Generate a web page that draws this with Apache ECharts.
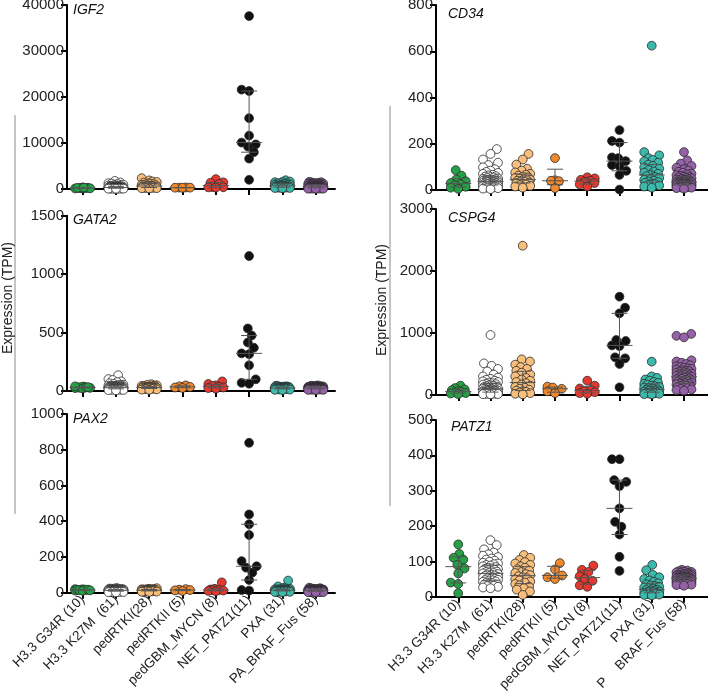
<!DOCTYPE html>
<html><head><meta charset="utf-8">
<script src="https://cdn.jsdelivr.net/npm/echarts@6/dist/echarts.min.js"></script>
<style>html,body{margin:0;padding:0;background:#fff}#c{width:708px;height:692px}</style>
</head><body><div id="c"></div>
<script>
// ---------------- DATA ----------------
const categories = ['H3.3 G34R (10)', 'H3.3 K27M  (61)', 'pedRTKI(28)', 'pedRTKII (5)', 'pedGBM_MYCN (8)', 'NET_PATZ1(11)', 'PXA (31)', 'PA_BRAF_Fus (58)'];
const genes = ['IGF2', 'GATA2', 'PAX2', 'CD34', 'CSPG4', 'PATZ1'];
const yMax = [40000, 1500, 1000, 800, 3000, 500];
const yStep = [10000, 500, 200, 200, 1000, 100];

const IGF2 = [
  [180, 260, 120, 330, 210, 90, 280, 150, 240, 310],
  [1750, 1420, 1260, 1180, 980, 1050, 870, 920, 760, 810, 690, 720, 640, 600, 580, 530, 560, 490, 470, 510, 440, 420, 400, 455, 380, 360, 395, 340, 320, 350, 300, 310, 280, 290, 260, 270, 240, 250, 225, 230, 210, 200, 190, 205, 180, 170, 160, 175, 150, 140, 130, 145, 120, 110, 100, 115, 90, 80, 70, 60, 50],
  [2350, 1870, 1640, 1520, 1390, 1240, 1170, 1060, 990, 910, 840, 790, 710, 690, 610, 570, 515, 470, 440, 385, 360, 315, 290, 245, 230, 185, 170, 120],
  [310, 280, 330, 260, 300],
  [2150, 1450, 1350, 1100, 420, 380, 350, 300],
  [37600, 21600, 21300, 15400, 11600, 10100, 9700, 9200, 8000, 6600, 2000],
  [1900, 1620, 1530, 1470, 1310, 1240, 1190, 1120, 1040, 990, 910, 860, 790, 770, 710, 690, 630, 610, 550, 530, 470, 460, 410, 395, 350, 340, 290, 275, 230, 215, 170],
  [1560, 1470, 1420, 1330, 1310, 1240, 1190, 1160, 1090, 1070, 1010, 990, 940, 930, 880, 870, 820, 810, 760, 750, 700, 690, 640, 630, 605, 570, 565, 530, 515, 490, 485, 450, 445, 410, 405, 370, 365, 330, 335, 290, 295, 260, 275, 230, 245, 200, 215, 170, 185, 150, 140, 115, 125, 95, 90, 70, 65, 50]
];
const GATA2 = [
  [32, 25, 38, 28, 35, 22, 30, 40, 27, 33],
  [135, 102, 94, 82, 76, 66, 60, 55, 52, 50, 48, 46, 45, 44, 42, 41, 40, 39, 38, 37, 36, 36, 35, 34, 33, 33, 32, 31, 30, 30, 29, 28, 28, 27, 26, 26, 25, 24, 24, 23, 22, 22, 21, 20, 20, 19, 18, 18, 17, 16, 16, 15, 14, 14, 13, 12, 11, 10, 9, 8, 6],
  [58, 52, 49, 46, 44, 42, 40, 38, 37, 35, 34, 33, 31, 30, 29, 28, 27, 26, 25, 24, 22, 21, 20, 18, 16, 14, 12, 10],
  [48, 40, 35, 30, 26],
  [82, 60, 48, 42, 36, 30, 25, 20],
  [1155, 535, 475, 415, 370, 322, 315, 220, 100, 70, 62],
  [45, 42, 40, 38, 37, 35, 34, 33, 32, 31, 30, 29, 28, 27, 26, 25, 25, 24, 23, 22, 21, 20, 19, 18, 17, 16, 15, 13, 12, 10, 8],
  [48, 45, 43, 42, 41, 40, 39, 38, 37, 37, 36, 35, 35, 34, 33, 33, 32, 32, 31, 30, 30, 29, 29, 28, 28, 27, 27, 26, 26, 25, 25, 24, 24, 23, 23, 22, 22, 21, 21, 20, 20, 19, 19, 18, 18, 17, 17, 16, 16, 15, 15, 14, 13, 12, 11, 10, 9, 8]
];
const PAX2 = [
  [18, 15, 20, 12, 16, 14, 19, 11, 17, 13],
  [26, 24, 23, 22, 21, 21, 20, 20, 19, 19, 18, 18, 18, 17, 17, 17, 16, 16, 16, 15, 15, 15, 15, 14, 14, 14, 14, 13, 13, 13, 13, 12, 12, 12, 12, 11, 11, 11, 11, 10, 10, 10, 10, 9, 9, 9, 8, 8, 8, 7, 7, 7, 6, 6, 6, 5, 5, 4, 4, 3, 2],
  [25, 22, 21, 20, 19, 18, 18, 17, 16, 16, 15, 15, 14, 14, 13, 13, 12, 12, 11, 11, 10, 10, 9, 8, 7, 6, 5, 4],
  [20, 17, 15, 13, 10],
  [58, 22, 18, 16, 14, 12, 10, 8],
  [839, 438, 383, 323, 177, 148, 140, 112, 71, 15, 12],
  [68, 35, 28, 24, 22, 21, 20, 19, 18, 17, 16, 16, 15, 15, 14, 14, 13, 13, 12, 12, 11, 11, 10, 10, 9, 8, 7, 6, 5, 4, 3],
  [28, 25, 24, 22, 21, 20, 20, 19, 19, 18, 18, 17, 17, 17, 16, 16, 16, 15, 15, 15, 14, 14, 14, 14, 13, 13, 13, 13, 12, 12, 12, 12, 11, 11, 11, 11, 10, 10, 10, 10, 9, 9, 9, 8, 8, 8, 7, 7, 7, 6, 6, 5, 5, 4, 4, 3, 3, 2]
];
const CD34 = [
  [86, 62, 45, 38, 30, 25, 20, 14, 10, 5],
  [177, 156, 132, 118, 108, 98, 90, 84, 78, 74, 70, 66, 63, 60, 58, 56, 54, 52, 50, 48, 47, 46, 45, 44, 43, 42, 41, 40, 39, 38, 37, 36, 35, 34, 33, 32, 31, 30, 29, 28, 27, 26, 25, 24, 23, 22, 21, 20, 19, 18, 17, 16, 15, 14, 13, 12, 11, 10, 8, 6, 4],
  [156, 132, 110, 92, 84, 76, 70, 66, 62, 58, 55, 52, 49, 46, 44, 42, 40, 38, 36, 34, 32, 30, 27, 24, 21, 18, 15, 10],
  [138, 42, 40, 38, 8],
  [55, 50, 44, 40, 36, 30, 24, 15],
  [259, 212, 205, 141, 138, 125, 108, 103, 83, 65, 2],
  [624, 164, 150, 138, 130, 124, 118, 110, 104, 98, 92, 86, 80, 75, 70, 65, 60, 56, 52, 48, 44, 40, 37, 34, 31, 28, 25, 22, 19, 15, 10],
  [164, 128, 114, 104, 96, 90, 84, 79, 75, 71, 67, 64, 61, 58, 56, 54, 52, 50, 48, 46, 45, 44, 42, 41, 40, 39, 38, 37, 36, 35, 34, 33, 32, 31, 30, 29, 28, 27, 26, 25, 24, 23, 22, 22, 21, 20, 19, 18, 17, 16, 15, 14, 13, 12, 11, 10, 8, 6]
];
const CSPG4 = [
  [150, 112, 90, 76, 62, 50, 42, 32, 24, 15],
  [968, 510, 470, 420, 380, 330, 300, 280, 260, 245, 230, 220, 210, 200, 190, 182, 175, 168, 160, 154, 148, 142, 136, 130, 125, 120, 115, 110, 106, 102, 98, 94, 90, 86, 82, 78, 75, 72, 69, 66, 63, 60, 57, 54, 51, 48, 45, 42, 39, 36, 33, 30, 28, 26, 24, 22, 20, 18, 16, 14, 12],
  [2408, 575, 540, 490, 450, 420, 390, 360, 330, 300, 275, 250, 230, 210, 190, 170, 150, 130, 115, 100, 85, 70, 60, 50, 40, 30, 20, 10],
  [135, 120, 100, 60, 30],
  [231, 150, 105, 80, 62, 45, 30, 20],
  [1586, 1409, 1317, 887, 871, 800, 790, 608, 592, 500, 124],
  [538, 300, 275, 250, 230, 210, 195, 180, 165, 150, 140, 130, 120, 110, 100, 92, 85, 78, 72, 66, 60, 55, 50, 45, 40, 35, 30, 25, 20, 15, 10],
  [985, 955, 930, 560, 540, 520, 500, 480, 465, 450, 440, 430, 420, 410, 400, 392, 384, 376, 368, 360, 352, 345, 338, 331, 324, 317, 310, 303, 296, 289, 282, 275, 268, 261, 254, 247, 240, 233, 226, 219, 212, 205, 198, 191, 184, 177, 170, 162, 154, 146, 138, 130, 120, 110, 100, 90, 80, 70]
];
const PATZ1 = [
  [148, 121, 110, 105, 90, 80, 66, 40, 36, 10],
  [160, 146, 134, 125, 120, 116, 112, 108, 105, 102, 99, 96, 94, 92, 90, 88, 86, 84, 82, 80, 79, 78, 76, 75, 74, 72, 71, 70, 68, 67, 66, 64, 63, 62, 60, 59, 58, 56, 55, 54, 52, 51, 50, 48, 47, 46, 44, 43, 42, 40, 39, 38, 36, 35, 34, 32, 31, 30, 28, 26, 24],
  [118, 110, 104, 98, 94, 90, 86, 82, 78, 74, 70, 67, 64, 61, 58, 55, 52, 49, 46, 43, 40, 36, 32, 28, 24, 20, 15, 5],
  [95, 77, 60, 55, 50],
  [88, 76, 70, 58, 50, 45, 32, 28],
  [389, 389, 330, 325, 313, 250, 212, 198, 176, 113, 73],
  [90, 75, 62, 55, 50, 46, 42, 38, 35, 32, 30, 28, 26, 24, 22, 20, 19, 18, 16, 15, 14, 13, 12, 11, 10, 9, 8, 7, 6, 5, 4],
  [76, 74, 72, 71, 70, 69, 68, 67, 66, 65, 64, 63, 62, 62, 61, 60, 60, 59, 58, 58, 57, 56, 56, 55, 55, 54, 54, 53, 53, 52, 52, 51, 51, 50, 50, 49, 49, 48, 48, 47, 46, 46, 45, 44, 44, 43, 42, 41, 40, 40, 39, 38, 37, 36, 35, 34, 33, 31]
];
const panelData = [IGF2, GATA2, PAX2, CD34, CSPG4, PATZ1];

// ---------------- STYLE / LAYOUT ----------------
const groupColors = ['#26a046', '#ffffff', '#f8be7c', '#f0892d', '#e5392f', '#111111', '#3cb9ab', '#9562a8'];
const FONT = 'Liberation Sans';
const layout = [
  { left: 67, width: 268, top: 5, height: 184, xmin: -0.47, xmax: 7.58, labels: false, tx: 73, ty: 10 },
  { left: 67, width: 268, top: 215.7, height: 175.3, xmin: -0.47, xmax: 7.58, labels: false, tx: 73, ty: 220 },
  { left: 67, width: 268, top: 414, height: 178.7, xmin: -0.47, xmax: 7.58, labels: true, tx: 73, ty: 419 },
  { left: 436, width: 272, top: 5, height: 185, xmin: -0.69, xmax: 7.745, labels: false, tx: 448, ty: 14 },
  { left: 436, width: 272, top: 209, height: 186, xmin: -0.69, xmax: 7.745, labels: false, tx: 448, ty: 218 },
  { left: 436, width: 272, top: 420, height: 176.7, xmin: -0.69, xmax: 7.745, labels: true, tx: 451, ty: 427, hideA: true }
];
const MARK = 8.8, COLL = 8, SPREAD = 15;

function swarm(vals, pxPerVal) {
  const idx = vals.map((v, i) => i).sort((a, b) => vals[a] - vals[b]);
  const placed = [];
  const off = new Array(vals.length).fill(0);
  for (const i of idx) {
    const y = vals[i] * pxPerVal;
    const near = placed.filter(p => Math.abs(p.y - y) < COLL);
    let bal = 0; near.forEach(p => { bal += Math.sign(p.x); });
    let cands = [0];
    near.forEach(p => { const dx = Math.sqrt(COLL * COLL - (p.y - y) ** 2); cands.push(p.x + dx, p.x - dx); });
    cands = cands.filter(c => Math.abs(c) <= SPREAD / 2 + 1e-6)
      .sort((a, b) => (Math.abs(a) + 0.01 * Math.sign(a) * Math.sign(bal)) - (Math.abs(b) + 0.01 * Math.sign(b) * Math.sign(bal)));
    let best = null;
    for (const c of cands) {
      if (near.every(p => Math.hypot(p.x - c, p.y - y) >= COLL - 1e-6)) { best = c; break; }
    }
    if (best === null) {
      let bs = -Infinity;
      for (let k = 0; k <= 14; k++) {
        const c = -SPREAD / 2 + SPREAD * k / 14;
        const m = Math.min(...near.map(p => Math.hypot(p.x - c, p.y - y)));
        const s = m - Math.abs(c) * 0.02;
        if (s > bs) { bs = s; best = c; }
      }
    }
    off[i] = best;
    placed.push({ x: best, y });
  }
  return off;
}
function quant(sorted, p) {
  const n = sorted.length;
  let pos = (n + 1) * p;
  if (pos < 1) pos = 1; if (pos > n) pos = n;
  const lo = Math.floor(pos), hi = Math.ceil(pos);
  return sorted[lo - 1] + (sorted[hi - 1] - sorted[lo - 1]) * (pos - lo);
}

const grids = [], xAxes = [], yAxes = [], series = [], graphics = [];
panelData.forEach((groups, pi) => {
  const L = layout[pi];
  grids.push({ left: L.left, top: L.top, width: L.width, height: L.height, outerBoundsMode: 'none', containLabel: false });
  const ticks = categories.map((c, i) => i);
  xAxes.push({
    type: 'value', gridIndex: pi, min: L.xmin, max: L.xmax,
    splitLine: { show: false },
    axisLine: { show: true, onZero: false, lineStyle: { color: '#000', width: 2 } },
    axisTick: { show: true, customValues: ticks, length: 6, lineStyle: { color: '#000', width: 2 } },
    axisLabel: {
      show: L.labels, customValues: ticks, rotate: 45, margin: 5,
      fontFamily: FONT, fontSize: 13, color: '#222',
      formatter: v => {
        const name = categories[Math.round(v)];
        if (L.hideA && Math.round(v) === 7) return '{n|P}{h|A_}{n|BRAF_Fus (58)}';
        return '{n|' + name + '}';
      },
      rich: { n: { fontFamily: FONT, fontSize: 13.5, color: '#222' }, h: { fontFamily: FONT, fontSize: 13.5, color: '#ffffff' } }
    }
  });
  yAxes.push({
    type: 'value', gridIndex: pi, min: 0, max: yMax[pi], interval: yStep[pi],
    splitLine: { show: false },
    axisLine: { show: true, onZero: false, lineStyle: { color: '#000', width: 2 } },
    axisTick: { show: true, length: 6, lineStyle: { color: '#000', width: 2 } },
    axisLabel: { fontFamily: FONT, fontSize: 15, color: '#222', margin: 3, formatter: v => String(v) }
  });
  const pxPerVal = L.height / yMax[pi];
  const bandPx = L.width / (L.xmax - L.xmin);
  const pts = [], bars = [];
  groups.forEach((vals, gi) => {
    const off = swarm(vals, pxPerVal);
    vals.forEach((v, k) => {
      pts.push({ value: [gi + off[k] / bandPx, v], itemStyle: { color: groupColors[gi] } });
    });
    const s = vals.slice().sort((a, b) => a - b);
    bars.push([gi, quant(s, 0.25), quant(s, 0.5), quant(s, 0.75)]);
  });
  series.push({
    type: 'scatter', xAxisIndex: pi, yAxisIndex: pi, symbol: 'circle', symbolSize: MARK, clip: false,
    itemStyle: { borderColor: '#2a2a2a', borderWidth: 0.8, opacity: 1 },
    emphasis: { disabled: true }, animation: false, z: 3, data: pts
  });
  series.push({
    type: 'custom', xAxisIndex: pi, yAxisIndex: pi, animation: false, z: 4, clip: false,
    encode: { x: 0, y: [1, 2, 3] },
    renderItem: function (params, api) {
      const x = api.value(0);
      const a = api.coord([x, api.value(1)]);
      const m = api.coord([x, api.value(2)]);
      const b = api.coord([x, api.value(3)]);
      const st = { stroke: '#555555', lineWidth: 1 };
      return {
        type: 'group', children: [
          { type: 'line', shape: { x1: a[0], y1: a[1], x2: b[0], y2: b[1] }, style: st },
          { type: 'line', shape: { x1: a[0] - 8, y1: a[1], x2: a[0] + 8, y2: a[1] }, style: st },
          { type: 'line', shape: { x1: b[0] - 8, y1: b[1], x2: b[0] + 8, y2: b[1] }, style: st },
          { type: 'line', shape: { x1: m[0] - 13, y1: m[1], x2: m[0] + 13, y2: m[1] }, style: st }
        ]
      };
    },
    data: bars
  });
  graphics.push({
    type: 'text', x: L.tx, y: L.ty, z: 10,
    style: { text: genes[pi], font: 'italic 14px "' + FONT + '"', fill: '#111', align: 'left', verticalAlign: 'middle' }
  });
});
graphics.push({ type: 'line', shape: { x1: 15, y1: 115, x2: 15, y2: 514 }, style: { stroke: '#8a8a8a', lineWidth: 1 } });
graphics.push({ type: 'line', shape: { x1: 390, y1: 106, x2: 390, y2: 506 }, style: { stroke: '#8a8a8a', lineWidth: 1 } });
graphics.push({ type: 'text', x: 8, y: 298, rotation: Math.PI / 2, style: { text: 'Expression (TPM)', font: '14px "' + FONT + '"', fill: '#222', align: 'center', verticalAlign: 'middle' } });
graphics.push({ type: 'text', x: 382, y: 300, rotation: Math.PI / 2, style: { text: 'Expression (TPM)', font: '14px "' + FONT + '"', fill: '#222', align: 'center', verticalAlign: 'middle' } });

const chart = echarts.init(document.getElementById('c'), null, { renderer: 'canvas' });
chart.setOption({
  animation: false,
  backgroundColor: '#fff',
  grid: grids, xAxis: xAxes, yAxis: yAxes, series: series, graphic: graphics
});
</script></body></html>
